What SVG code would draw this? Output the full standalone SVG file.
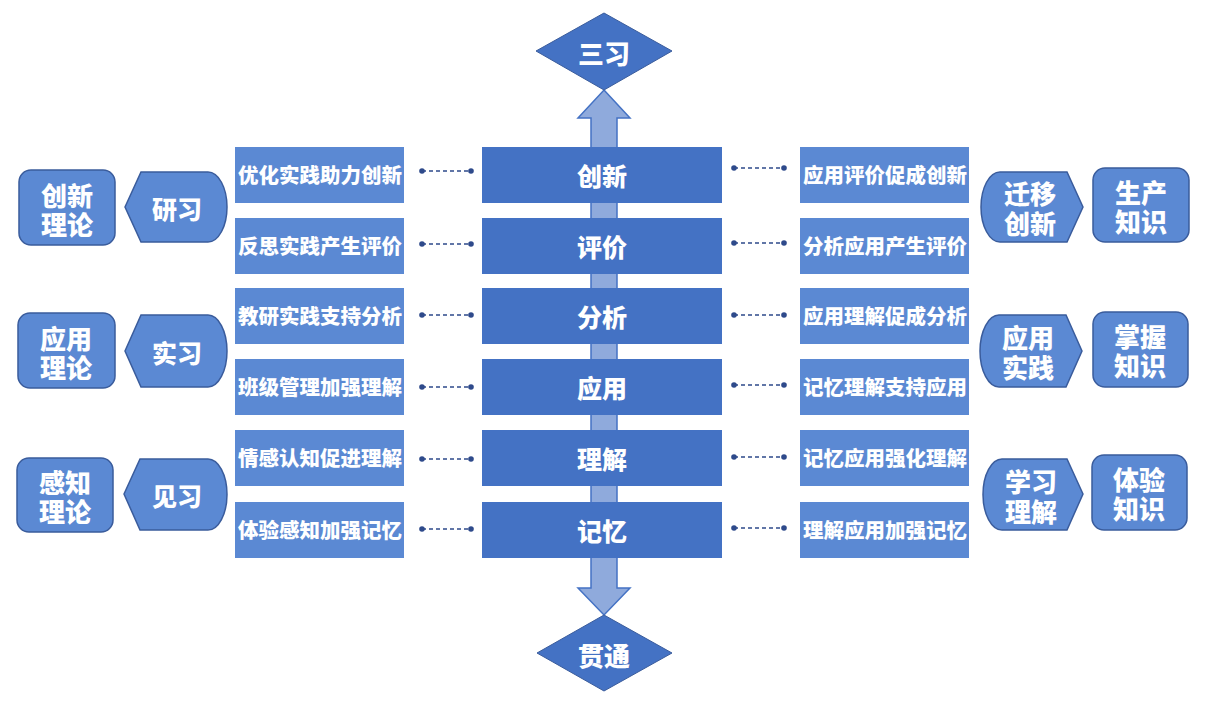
<svg xmlns="http://www.w3.org/2000/svg" width="1213" height="705" viewBox="0 0 1213 705">
<style>
text{font-family:"Noto Sans CJK SC","Noto Sans",sans-serif;font-weight:900;fill:#fff;text-anchor:middle;dominant-baseline:central}
.core{fill:#4472C4}
.side{fill:#5B89D3}
.shape{fill:#5B89D3;stroke:#3A5C9C;stroke-width:1.5}
.dia{fill:#4472C4;stroke:#3A5C9C;stroke-width:1}
.t25{font-size:25px}
.t21{font-size:20.5px}
.t26{font-size:26px}
.dash{stroke:#2E4A8B;stroke-width:1.5;stroke-dasharray:4 3;fill:none}
.dot{fill:#2E4A8B}
</style>
<rect width="1213" height="705" fill="#fff"/>

<g id="axis">
<polygon points="604,90 630,118 617,118 617,588 630,588 604,615 578,588 591,588 591,118 578,118" fill="#8FAADC" stroke="#4472C4" stroke-width="1.5"/>
</g>

<g id="top-diamond"><polygon class="dia" points="536,51 604,13 672,51 604,90"/><text class="t26" x="604" y="52">三习</text></g>
<g id="bottom-diamond"><polygon class="dia" points="537,653 604,615 672,653 604,691"/><text class="t26" x="604" y="654">贯通</text></g>

<g id="core-1"><rect class="core" x="482" y="147" width="240" height="56"/><text class="t25" x="602" y="175">创新</text></g>
<g id="core-2"><rect class="core" x="482" y="218" width="240" height="56"/><text class="t25" x="602" y="246">评价</text></g>
<g id="core-3"><rect class="core" x="482" y="288" width="240" height="56"/><text class="t25" x="602" y="316">分析</text></g>
<g id="core-4"><rect class="core" x="482" y="359" width="240" height="56"/><text class="t25" x="602" y="387">应用</text></g>
<g id="core-5"><rect class="core" x="482" y="430" width="240" height="56"/><text class="t25" x="602" y="458">理解</text></g>
<g id="core-6"><rect class="core" x="482" y="502" width="240" height="56"/><text class="t25" x="602" y="530">记忆</text></g>

<g id="left-1"><rect class="side" x="235" y="147" width="169" height="56"/><text class="t21" x="320" y="174">优化实践助力创新</text></g>
<g id="left-2"><rect class="side" x="235" y="218" width="169" height="56"/><text class="t21" x="320" y="245">反思实践产生评价</text></g>
<g id="left-3"><rect class="side" x="235" y="288" width="169" height="56"/><text class="t21" x="320" y="315">教研实践支持分析</text></g>
<g id="left-4"><rect class="side" x="235" y="359" width="169" height="56"/><text class="t21" x="320" y="386">班级管理加强理解</text></g>
<g id="left-5"><rect class="side" x="235" y="430" width="169" height="56"/><text class="t21" x="320" y="457">情感认知促进理解</text></g>
<g id="left-6"><rect class="side" x="235" y="502" width="169" height="56"/><text class="t21" x="320" y="529">体验感知加强记忆</text></g>

<g id="right-1"><rect class="side" x="800" y="147" width="169" height="56"/><text class="t21" x="885" y="174">应用评价促成创新</text></g>
<g id="right-2"><rect class="side" x="800" y="218" width="169" height="56"/><text class="t21" x="885" y="245">分析应用产生评价</text></g>
<g id="right-3"><rect class="side" x="800" y="288" width="169" height="56"/><text class="t21" x="885" y="315">应用理解促成分析</text></g>
<g id="right-4"><rect class="side" x="800" y="359" width="169" height="56"/><text class="t21" x="885" y="386">记忆理解支持应用</text></g>
<g id="right-5"><rect class="side" x="800" y="430" width="169" height="56"/><text class="t21" x="885" y="457">记忆应用强化理解</text></g>
<g id="right-6"><rect class="side" x="800" y="502" width="169" height="56"/><text class="t21" x="885" y="529">理解应用加强记忆</text></g>

<g id="connectors">
<g>
<line class="dash" x1="422" y1="171" x2="471" y2="171"/><line class="dash" x1="422" y1="244" x2="471" y2="244"/>
<line class="dash" x1="422" y1="315" x2="471" y2="315"/><line class="dash" x1="422" y1="387" x2="471" y2="387"/>
<line class="dash" x1="422" y1="459" x2="471" y2="459"/><line class="dash" x1="422" y1="529" x2="471" y2="529"/>
<line class="dash" x1="734" y1="168" x2="784" y2="168"/><line class="dash" x1="734" y1="243" x2="784" y2="243"/>
<line class="dash" x1="734" y1="315" x2="784" y2="315"/><line class="dash" x1="734" y1="385" x2="784" y2="385"/>
<line class="dash" x1="734" y1="457" x2="784" y2="457"/><line class="dash" x1="734" y1="528" x2="784" y2="528"/>
</g>
<g>
<circle class="dot" cx="422" cy="171" r="2.8"/><circle class="dot" cx="471" cy="171" r="2.8"/>
<circle class="dot" cx="422" cy="244" r="2.8"/><circle class="dot" cx="471" cy="244" r="2.8"/>
<circle class="dot" cx="422" cy="315" r="2.8"/><circle class="dot" cx="471" cy="315" r="2.8"/>
<circle class="dot" cx="422" cy="387" r="2.8"/><circle class="dot" cx="471" cy="387" r="2.8"/>
<circle class="dot" cx="422" cy="459" r="2.8"/><circle class="dot" cx="471" cy="459" r="2.8"/>
<circle class="dot" cx="422" cy="529" r="2.8"/><circle class="dot" cx="471" cy="529" r="2.8"/>
<circle class="dot" cx="734" cy="168" r="2.8"/><circle class="dot" cx="784" cy="168" r="2.8"/>
<circle class="dot" cx="734" cy="243" r="2.8"/><circle class="dot" cx="784" cy="243" r="2.8"/>
<circle class="dot" cx="734" cy="315" r="2.8"/><circle class="dot" cx="784" cy="315" r="2.8"/>
<circle class="dot" cx="734" cy="385" r="2.8"/><circle class="dot" cx="784" cy="385" r="2.8"/>
<circle class="dot" cx="734" cy="457" r="2.8"/><circle class="dot" cx="784" cy="457" r="2.8"/>
<circle class="dot" cx="734" cy="528" r="2.8"/><circle class="dot" cx="784" cy="528" r="2.8"/>
</g>
</g>

<g id="stage-yanxi"><path class="shape" d="M125,207 L141,172 L208,172 A19,35 0 0 1 208,242 L141,242 Z"/><text class="t25" x="177" y="208">研习</text></g>
<g id="stage-shixi"><path class="shape" d="M125,351 L141,315 L208,315 A19,36 0 0 1 208,387 L141,387 Z"/><text class="t25" x="177" y="352">实习</text></g>
<g id="stage-jianxi"><path class="shape" d="M124,494 L140,459 L208,459 A19,35.5 0 0 1 208,530 L140,530 Z"/><text class="t25" x="177" y="495">见习</text></g>

<g id="theory-1"><rect class="shape" x="19" y="170" width="96" height="75" rx="12"/><text class="t26"><tspan x="67" y="194">创新</tspan><tspan x="67" y="223">理论</tspan></text></g>
<g id="theory-2"><rect class="shape" x="18" y="313" width="97" height="75" rx="12"/><text class="t26"><tspan x="66" y="337">应用</tspan><tspan x="66" y="366">理论</tspan></text></g>
<g id="theory-3"><rect class="shape" x="17" y="458" width="96" height="74" rx="12"/><text class="t26"><tspan x="65" y="481">感知</tspan><tspan x="65" y="510">理论</tspan></text></g>

<g id="mode-1"><path class="shape" d="M1083,207 L1067,172 L1000,172 A19,35 0 0 0 1000,242 L1067,242 Z"/><text class="t26"><tspan x="1030" y="192">迁移</tspan><tspan x="1030" y="222">创新</tspan></text></g>
<g id="mode-2"><path class="shape" d="M1082,351 L1066,315 L999,315 A19,36 0 0 0 999,387 L1066,387 Z"/><text class="t26"><tspan x="1028" y="336">应用</tspan><tspan x="1028" y="366">实践</tspan></text></g>
<g id="mode-3"><path class="shape" d="M1083,494 L1067,459 L1002,459 A19,35.5 0 0 0 1002,530 L1067,530 Z"/><text class="t26"><tspan x="1031" y="480">学习</tspan><tspan x="1031" y="510">理解</tspan></text></g>

<g id="knowledge-1"><rect class="shape" x="1093" y="168" width="96" height="74" rx="12"/><text class="t26"><tspan x="1141" y="191">生产</tspan><tspan x="1141" y="220">知识</tspan></text></g>
<g id="knowledge-2"><rect class="shape" x="1093" y="312" width="95" height="75" rx="12"/><text class="t26"><tspan x="1140" y="335">掌握</tspan><tspan x="1140" y="364">知识</tspan></text></g>
<g id="knowledge-3"><rect class="shape" x="1092" y="455" width="95" height="75" rx="12"/><text class="t26"><tspan x="1139" y="478">体验</tspan><tspan x="1139" y="507">知识</tspan></text></g>
</svg>
